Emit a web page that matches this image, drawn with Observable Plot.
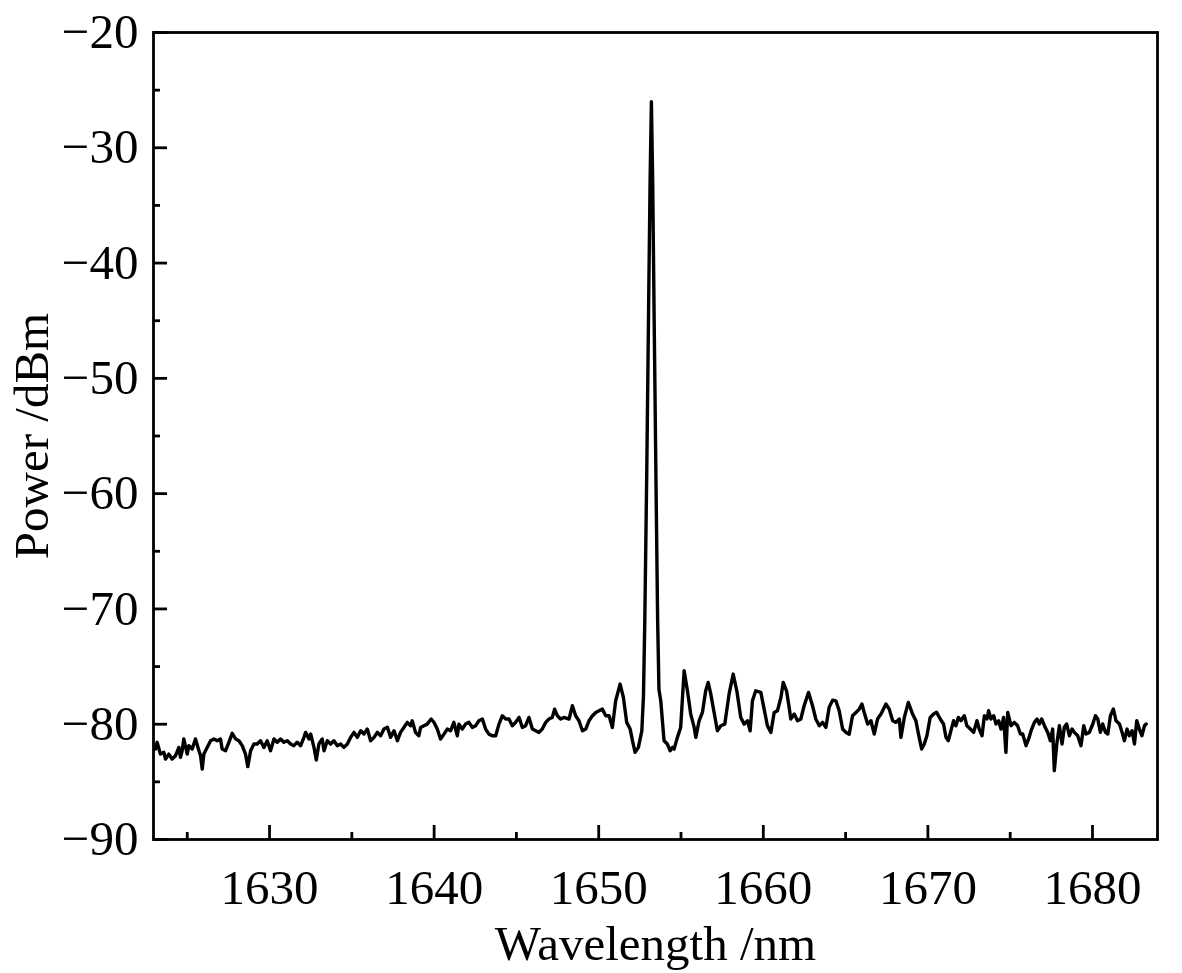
<!DOCTYPE html>
<html>
<head>
<meta charset="utf-8">
<script src="https://cdn.jsdelivr.net/npm/d3@7"></script>
<script src="https://cdn.jsdelivr.net/npm/@observablehq/plot@0.6"></script>
<style>
  html, body { margin: 0; padding: 0; background: #fff; }
  #chart { width: 1182px; height: 973px; }
</style>
</head>
<body>
<div id="chart"></div>
<script>
// Spectrum (wavelength in nm, power in dBm)
const wavelength = [
  1623.07,1623.17,1623.37,1623.58,1623.68,1623.88,1624.08,1624.29,1624.49,1624.59,1624.69,1624.79,
  1625.0,1625.1,1625.3,1625.5,1625.71,1625.81,1625.91,1626.01,1626.21,1626.42,1626.62,1626.82,
  1627.02,1627.12,1627.33,1627.53,1627.73,1627.94,1628.14,1628.34,1628.54,1628.68,1628.85,1629.05,
  1629.25,1629.45,1629.66,1629.86,1630.06,1630.27,1630.47,1630.67,1630.87,1631.08,1631.28,1631.48,
  1631.68,1631.89,1632.09,1632.19,1632.4,1632.5,1632.7,1632.84,1633.0,1633.2,1633.31,1633.51,
  1633.71,1633.91,1634.12,1634.32,1634.52,1634.73,1634.93,1635.13,1635.33,1635.54,1635.74,1635.94,
  1636.14,1636.35,1636.55,1636.75,1636.95,1637.16,1637.36,1637.56,1637.77,
  1637.96,1638.16,1638.37,1638.57,1638.67,1638.87,1639.07,1639.18,1639.38,1639.58,1639.82,1639.99,
  1640.19,1640.39,1640.6,1640.8,1641.0,1641.2,1641.41,1641.51,1641.71,1641.91,1642.12,1642.32,
  1642.52,1642.72,1642.93,1643.13,1643.33,1643.53,1643.74,1643.94,1644.14,1644.35,1644.55,1644.75,
  1644.95,1645.16,1645.36,1645.56,1645.76,1645.97,1646.17,1646.37,1646.57,1646.78,1646.98,1647.18,
  1647.32,1647.49,1647.69,1647.89,1648.2,1648.4,1648.6,1648.8,1649.01,1649.21,1649.41,1649.62,
  1649.82,1650.02,1650.22,1650.43,1650.63,1650.83,1651.03,1651.3,1651.5,1651.7,1651.91,1652.05,
  1652.21,1652.41,1652.62,1652.72,
  1652.8,1652.92,1653.03,1653.12,1653.2,1653.28,1653.37,1653.48,1653.58,1653.66,
  1653.77,1653.97,1654.17,1654.34,1654.48,1654.58,1654.78,1654.98,1655.19,1655.39,1655.59,1655.8,
  1655.9,1656.1,1656.3,1656.5,1656.65,1656.81,1657.01,1657.21,1657.42,1657.66,1657.92,1658.17,
  1658.39,1658.63,1658.84,1659.04,1659.2,1659.34,1659.54,1659.85,1660.05,1660.25,1660.46,1660.66,
  1660.86,1661.07,1661.21,1661.41,1661.57,1661.67,1661.88,1662.08,1662.28,1662.48,1662.75,1662.99,
  1663.19,1663.4,1663.6,1663.8,1664.0,1664.21,1664.41,1664.61,1664.82,1665.02,1665.22,1665.42,
  1665.63,1665.83,1665.99,1666.13,1666.34,1666.54,1666.74,1666.94,1667.15,1667.45,1667.65,1667.86,
  1668.06,1668.26,1668.36,1668.57,
  1668.81,1669.07,1669.27,1669.47,1669.62,1669.78,1669.94,1670.14,1670.35,1670.53,1670.75,1670.95,
  1671.1,1671.24,1671.4,1671.56,1671.7,1671.85,1672.01,1672.21,1672.37,1672.58,1672.78,1672.98,
  1673.12,1673.29,1673.43,1673.59,1673.69,1673.83,1674.0,1674.14,1674.3,1674.44,1674.6,1674.74,
  1674.85,1675.05,1675.25,1675.45,1675.62,1675.76,1675.96,1676.12,1676.27,1676.47,1676.63,1676.77,
  1676.91,1677.08,1677.28,1677.44,1677.58,1677.68,1677.83,1677.99,1678.15,1678.29,1678.43,1678.6,
  1678.76,1678.9,1679.1,1679.3,1679.47,1679.61,1679.81,1680.02,1680.18,1680.32,1680.48,1680.62,
  1680.79,1680.93,1681.09,1681.27,1681.43,1681.64,1681.8,1681.94,1682.1,1682.24,1682.41,1682.55,
  1682.69,1682.85,1683.0,1683.16,1683.26
];
const power = [
  -82.15,-81.57,-82.59,-82.44,-83.02,-82.59,-83.02,-82.73,-82.01,-82.87,-82.3,-81.28,
  -82.59,-81.86,-82.15,-81.28,-82.3,-82.73,-83.89,-82.59,-82.01,-81.43,-81.28,-81.43,
  -81.28,-82.15,-82.3,-81.57,-80.79,-81.28,-81.43,-81.86,-82.59,-83.68,-82.3,-81.72,
  -81.72,-81.43,-82.01,-81.43,-82.3,-81.28,-81.57,-81.28,-81.57,-81.43,-81.72,-81.86,
  -81.57,-81.86,-81.14,-80.71,-81.28,-80.85,-82.01,-83.11,-81.72,-81.28,-82.3,-81.43,
  -81.72,-81.43,-81.86,-81.72,-82.01,-81.72,-81.14,-80.71,-81.14,-80.56,-80.85,-80.42,
  -81.43,-81.14,-80.71,-81.0,-80.42,-80.27,-81.14,-80.56,-81.43,
  -80.71,-80.28,-79.84,-80.13,-79.7,-80.71,-81.0,-80.28,-80.13,-79.99,-79.55,-79.84,
  -80.42,-81.29,-80.86,-80.42,-80.57,-79.84,-81.0,-79.99,-80.42,-79.99,-79.84,-80.28,
  -80.13,-79.7,-79.55,-80.42,-80.86,-81.0,-81.0,-79.99,-79.27,-79.55,-79.55,-80.13,
  -79.84,-79.41,-80.28,-80.13,-79.41,-80.42,-80.57,-80.71,-80.42,-79.84,-79.55,-79.41,
  -78.69,-79.27,-79.55,-79.41,-79.55,-78.4,-79.27,-79.7,-80.57,-80.42,-79.7,-79.27,
  -78.98,-78.83,-78.69,-79.27,-79.27,-80.28,-77.97,-76.52,-77.68,-79.84,-80.42,-81.43,
  -82.44,-82.01,-80.57,-77.5,
  -71,-58,-44,-33,-26,-33,-45,-59,-71,-77,
  -77.97,-81.43,-81.72,-82.3,-82.01,-82.16,-81.14,-80.28,-75.36,-77.1,-79.12,-80.28,
  -81.14,-79.7,-78.98,-77.1,-76.38,-77.39,-78.98,-80.57,-80.13,-79.99,-77.39,-75.65,
  -77.1,-79.41,-79.99,-79.7,-80.57,-77.97,-77.1,-77.24,-78.69,-80.13,-80.71,-78.98,
  -78.83,-77.68,-76.38,-77.1,-78.54,-79.55,-79.12,-79.7,-79.55,-78.4,-77.24,-78.4,
  -79.55,-80.13,-79.84,-80.28,-78.54,-77.91,-77.97,-78.83,-80.42,-80.71,-80.86,-79.27,
  -78.98,-78.69,-78.25,-78.98,-79.99,-79.7,-80.86,-79.55,-79.12,-78.25,-78.69,-79.7,
  -79.84,-79.55,-81.14,-79.41,
  -78.11,-79.12,-79.7,-81.14,-82.15,-81.72,-81.0,-79.41,-79.12,-78.97,-79.55,-79.98,
  -81.14,-81.43,-80.56,-79.7,-80.13,-79.41,-79.7,-79.26,-80.13,-80.42,-80.71,-79.7,
  -80.42,-81.0,-79.26,-79.55,-78.83,-79.55,-79.26,-79.98,-79.7,-80.42,-79.41,-82.44,
  -78.97,-80.13,-79.84,-80.13,-80.85,-80.85,-81.86,-81.28,-80.56,-79.84,-79.55,-79.98,
  -79.55,-80.13,-80.71,-81.43,-80.42,-84.03,-81.72,-80.13,-81.72,-80.27,-79.98,-81.0,
  -80.42,-80.71,-81.0,-81.86,-80.13,-80.85,-80.71,-79.98,-79.26,-79.55,-80.71,-79.98,
  -80.71,-80.85,-79.26,-78.68,-79.7,-79.98,-80.71,-81.43,-80.42,-81.0,-80.56,-81.72,
  -79.7,-80.42,-81.0,-80.13,-79.98
];
const xMajorTicks = [1630, 1640, 1650, 1660, 1670, 1680];
const xMinorTicks = [1625, 1635, 1645, 1655, 1665, 1675];
const yMajorTicks = [-90, -80, -70, -60, -50, -40, -30, -20];
const yMinorTicks = [-85, -75, -65, -55, -45, -35, -25];
const xLabel = "Wavelength /nm";
const yLabel = "Power /dBm";

const data = wavelength.map((w, i) => ({w, p: power[i]}));
const blank = () => "";
const plain = d => String(d).replace("-", "\u2212");

const chart = Plot.plot({
  width: 1182,
  height: 973,
  marginLeft: 153,
  marginRight: 25,
  marginTop: 32,
  marginBottom: 134,
  style: {fontFamily: "'Liberation Serif', 'Times New Roman', serif", fontSize: "49px", color: "#000", background: "#fff", overflow: "visible"},
  x: {domain: [1622.95, 1683.95]},
  y: {domain: [-90, -20]},
  marks: [
    Plot.axisX({ticks: xMajorTicks, tickSize: 0, tickPadding: 30, tickFormat: plain, label: xLabel, labelAnchor: "center", labelOffset: 120, labelArrow: "none"}),
    Plot.axisX({ticks: xMajorTicks, tickSize: -14, strokeWidth: 2.8, tickFormat: blank, label: null}),
    Plot.axisX({ticks: xMinorTicks, tickSize: -7, strokeWidth: 2.8, tickFormat: blank, label: null}),
    Plot.axisY({ticks: yMajorTicks, tickSize: 0, tickPadding: 15, tickFormat: plain, label: yLabel, labelAnchor: "center", labelOffset: 140, labelArrow: "none"}),
    Plot.axisY({ticks: yMajorTicks, tickSize: -14, strokeWidth: 2.8, tickFormat: blank, label: null}),
    Plot.axisY({ticks: yMinorTicks, tickSize: -7, strokeWidth: 2.8, tickFormat: blank, label: null}),
    Plot.line(data, {x: "w", y: "p", stroke: "#000", strokeWidth: 3.4, strokeLinejoin: "round"}),
    Plot.frame({stroke: "#000", strokeWidth: 2.8})
  ]
});
document.getElementById("chart").appendChild(chart);
</script>
</body>
</html>
